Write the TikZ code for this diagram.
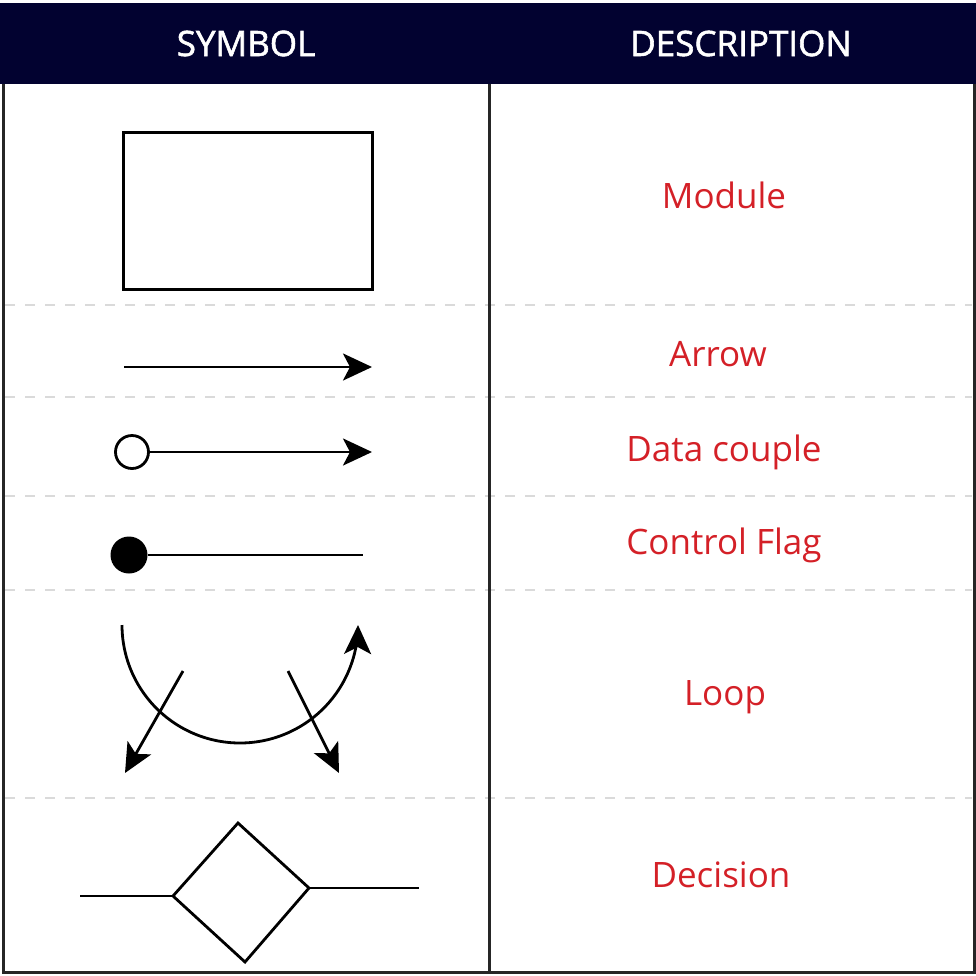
\documentclass[tikz,border=0pt]{standalone}
\usepackage{fontspec}
\setmainfont{Open Sans}
\newfontfamily\hdrfont[FakeBold=1.6]{Open Sans}
\usetikzlibrary{arrows.meta}
\definecolor{navy}{RGB}{2,2,48}
\definecolor{lblred}{RGB}{212,32,39}
\definecolor{dashgray}{RGB}{218,218,218}
\begin{document}
\begin{tikzpicture}[x=1pt,y=-1pt,
  arr/.style={line width=2.8pt, -{Stealth[length=29pt,width=27pt,inset=7pt]}},
  ln/.style={line width=2.8pt},
  sep/.style={dashgray, line width=2pt, dash pattern=on 10pt off 10pt},
  lbl/.style={text=lblred, font=\fontsize{35}{40}\selectfont, anchor=base, inner sep=0pt},
  hdr/.style={text=white, font=\hdrfont\fontsize{35}{40}\selectfont, anchor=base, inner sep=0pt}]
\useasboundingbox (0,0) rectangle (976,975);
% header
\fill[navy] (0,3) rectangle (976,84);
\node[hdr] (hsym) at (246,56) {SYMBOL};
\node[hdr] (hdesc) at (741,56) {DESCRIPTION};
% separators
\foreach \yy in {305,397,496,590,798} \draw[sep] (5,\yy) -- (972,\yy);
% frame
\draw[line width=3pt, black!85] (3,84) -- (3,972) -- (974,972) -- (974,84);
\draw[line width=3pt, black!85] (489,84) -- (489,972);
% Module
\node[draw, line width=3pt, minimum width=249pt, minimum height=157pt, inner sep=0pt] (mod) at (247.5,210.5) {};
\node[lbl] (lmod) at (724,208) {Module};
% Arrow
\coordinate (a1) at (124,367);
\coordinate (a2) at (372,367);
\draw[arr] (a1) -- (a2);
\node[lbl] (larr) at (718,366) {Arrow};
% Data couple
\node[circle, draw, line width=2.8pt, minimum size=33pt, inner sep=0pt] (dc) at (132,452) {};
\coordinate (dcend) at (372,452);
\draw[arr] (dc.east) -- (dcend);
\node[lbl] (ldc) at (724,461) {Data couple};
% Control flag
\node[circle, fill=black, minimum size=37pt, inner sep=0pt] (cf) at (129,555) {};
\coordinate (cfend) at (363,555);
\draw[ln] (cf.east) -- (cfend);
\node[lbl] (lcf) at (724,554) {Control Flag};
% Loop
\draw[arr] plot[domain=0:180, samples=80, smooth] ({240-118*cos(\x)},{625+118*sin(\x)});
\coordinate (l1) at (183,671);
\coordinate (l2) at (125,773);
\coordinate (r1) at (288,671);
\coordinate (r2) at (339,773);
\draw[arr] (l1) -- (l2);
\draw[arr] (r1) -- (r2);
\node[lbl] (lloop) at (725,705) {Loop};
% Decision
\coordinate (dl) at (173,896);
\coordinate (dt) at (238,823);
\coordinate (dr) at (309,888);
\coordinate (db) at (245,962);
\coordinate (dle) at (80,896);
\coordinate (dre) at (419,888);
\draw[ln, line join=miter] (dl) -- (dt) -- (dr) -- (db) -- cycle;
\draw[ln] (dle) -- (dl);
\draw[ln] (dr) -- (dre);
\node[lbl] (ldec) at (721,887) {Decision};
\end{tikzpicture}
\end{document}
